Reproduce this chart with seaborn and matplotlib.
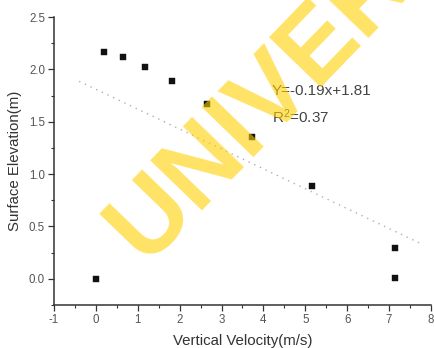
import matplotlib
matplotlib.use("Agg")
import matplotlib.pyplot as plt
import seaborn as sns
import numpy as np
import pandas as pd
from matplotlib.ticker import MultipleLocator

# data
velocity = [0.0, 0.20, 0.65, 1.17, 1.82, 2.65, 3.73, 5.17, 7.15, 7.15]
elevation = [0.0, 2.17, 2.12, 2.02, 1.89, 1.67, 1.35, 0.89, 0.29, 0.01]
fit_slope = -0.19
fit_intercept = 1.81
fit_range = [-0.4, 7.8]
eq_text = "Y=-0.19x+1.81"
r2_text = "R$^2$=0.37"
x_ticks = [-1, 0, 1, 2, 3, 4, 5, 6, 7, 8]
y_ticks = [0.0, 0.5, 1.0, 1.5, 2.0, 2.5]

sns.set_theme(style="white")
plt.rcParams['font.family'] = ['Liberation Sans', 'DejaVu Sans']
plt.rcParams['mathtext.default'] = 'regular'

fig = plt.figure(figsize=(4.34, 3.48), dpi=100)
ax = fig.add_axes([54/434, 1-305/348, (431-54)/434, (305-17)/348])

df = pd.DataFrame({"x": velocity, "y": elevation})
fx = np.array(fit_range)
fit_df = pd.DataFrame({"x": fx, "y": fit_slope * fx + fit_intercept})

sns.lineplot(data=fit_df, x="x", y="y", ax=ax, color="#b0b0b0",
             linewidth=1.0, linestyle=(0, (1, 3.5)), zorder=2)
sns.scatterplot(data=df, x="x", y="y", ax=ax, marker="s", s=16,
                color="#111111", edgecolor="#111111", linewidth=0.3, zorder=3)

ax.set_xlim(-1, 8)
ax.set_ylim(-0.25, 2.5)
ax.set_xticks(x_ticks)
ax.set_xticklabels([str(t) for t in x_ticks])
ax.set_yticks(y_ticks)
ax.set_yticklabels([f"{t:.1f}" for t in y_ticks])
ax.xaxis.set_minor_locator(MultipleLocator(0.5))
ax.yaxis.set_minor_locator(MultipleLocator(0.25))

for s in ["top", "right"]:
    ax.spines[s].set_visible(False)
for s in ["left", "bottom"]:
    ax.spines[s].set_color("#333333")
    ax.spines[s].set_linewidth(1.1)

ax.tick_params(axis="both", which="major", direction="out", length=4,
               width=0.9, color="#333333", labelsize=8.3, labelcolor="#555555",
               left=True, bottom=True, pad=2.5)
ax.tick_params(axis="both", which="minor", direction="out", length=2,
               width=0.8, color="#333333", left=True, bottom=True)

ax.set_xlabel("Vertical Velocity(m/s)", fontsize=10.8, color="#333333", labelpad=6)
ax.set_ylabel("Surface Elevation(m)", fontsize=10.8, color="#333333", labelpad=5)

ax.text(4.20, 1.79, eq_text, fontsize=11, color="#444444", va="center", ha="left", zorder=4)
ax.text(4.20, 1.55, r2_text, fontsize=11, color="#444444", va="center", ha="left", zorder=4)

# watermark
fig.text(145/434, 1-263/348, "UNIVERSITY", fontsize=74, fontweight="bold",
         color="#FFD000", alpha=0.6,
         rotation=46, rotation_mode="anchor", ha="left", va="baseline", zorder=10)

fig.savefig("out.png", dpi=100)
